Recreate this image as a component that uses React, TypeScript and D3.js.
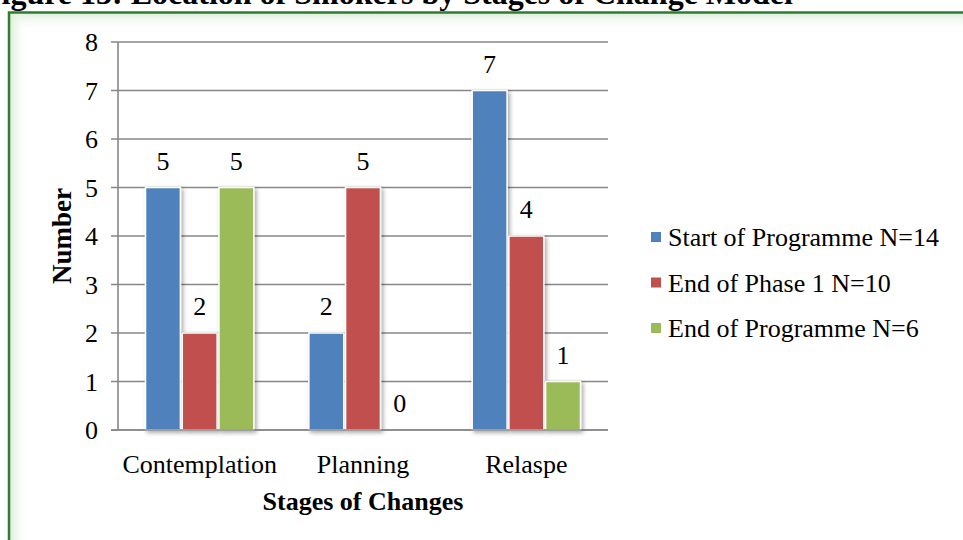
import React from "react";
import * as d3 from "d3";

const categories = ["Contemplation", "Planning", "Relaspe"];
const seriesNames = ["Start of Programme N=14", "End of Phase 1 N=10", "End of Programme N=6"];
const startValues = [5, 2, 7];
const phase1Values = [2, 5, 4];
const endValues = [5, 0, 1];
const yTicks = [0, 1, 2, 3, 4, 5, 6, 7, 8];
const colors = ["#4F81BD", "#C0504D", "#9BBB59"];
const title = "Figure 13: Location of Smokers by Stages of Change Model";

const W = 963;
const H = 540;

export default function App() {
  const series = [startValues, phase1Values, endValues];
  const x = d3.scaleBand<string>().domain(categories).range([118, 608]).paddingInner(0.337).paddingOuter(0.1685);
  const xi = d3.scaleBand<number>().domain([0, 1, 2]).range([0, x.bandwidth()]).paddingInner(0.05);
  const y = d3.scaleLinear().domain([0, 8]).range([430, 42]);
  const font = "'Liberation Serif', 'Times New Roman', serif";

  return (
    <svg width={W} height={H} style={{ position: "absolute", left: 0, top: 0, background: "#fff" }} fontFamily={font}>
      <defs>
        <filter id="sh" x="-30%" y="-10%" width="160%" height="130%">
          <feDropShadow dx="2" dy="2" stdDeviation="2.2" floodColor="#000" floodOpacity="0.35" />
        </filter>
        <linearGradient id="gTop" x1="0" y1="0" x2="0" y2="1">
          <stop offset="0" stopColor="#d9ecd6" stopOpacity="0.9" />
          <stop offset="1" stopColor="#ffffff" stopOpacity="0" />
        </linearGradient>
        <linearGradient id="gLeft" x1="0" y1="0" x2="1" y2="0">
          <stop offset="0" stopColor="#d9ecd6" stopOpacity="0.9" />
          <stop offset="1" stopColor="#ffffff" stopOpacity="0" />
        </linearGradient>
      </defs>
      <rect x={0} y={0} width={W} height={H} fill="#fff" />
      <text x={-18} y={4} fontSize={32} fontWeight="bold" fill="#000">{title}</text>
      {/* frame */}
      <rect x={10} y={13} width={W} height={18} fill="url(#gTop)" />
      <rect x={10} y={13} width={18} height={H} fill="url(#gLeft)" />
      <rect x={9} y={12.5} width={W + 20} height={H + 20} fill="none" stroke="#2E7D32" strokeWidth={2.5} />

      {/* gridlines + ticks */}
      {yTicks.map((t) => (
        <g key={t}>
          <line x1={111} x2={608} y1={y(t)} y2={y(t)} stroke="#878787" strokeWidth={1.6} />
          <text x={98} y={y(t) + 9} fontSize={26} textAnchor="end" fill="#000">{t}</text>
        </g>
      ))}
      <line x1={118} x2={118} y1={y(8)} y2={y(0)} stroke="#878787" strokeWidth={1.6} />

      {/* bars */}
      {categories.map((c, ci) => (
        <g key={c} transform={`translate(${x(c)},0)`}>
          {series.map((s, si) => {
            const v = s[ci];
            const bx = xi(si) as number;
            const bw = xi.bandwidth();
            return (
              <g key={si}>
                {v > 0 && (
                  <rect x={bx} y={y(v)} width={bw} height={y(0) - y(v)} fill={colors[si]} stroke="#fff" strokeWidth={1.5} filter="url(#sh)" />
                )}
                <text x={bx + bw / 2} y={y(v) - 18} fontSize={26} textAnchor="middle" fill="#000">{v}</text>
              </g>
            );
          })}
          <text x={x.bandwidth() / 2} y={473} fontSize={26} textAnchor="middle" fill="#000">{c}</text>
        </g>
      ))}
      <line x1={111} x2={608} y1={y(0)} y2={y(0)} stroke="#878787" strokeWidth={1.6} />

      {/* axis titles */}
      <text x={363} y={510} fontSize={26} fontWeight="bold" textAnchor="middle" fill="#000">Stages of Changes</text>
      <text transform={`translate(71,236) rotate(-90)`} fontSize={27} fontWeight="bold" textAnchor="middle" fill="#000">Number</text>

      {/* legend */}
      {seriesNames.map((n, i) => (
        <g key={n} transform={`translate(651,${237 + i * 45.5})`}>
          <rect x={0} y={-5} width={10} height={10} fill={colors[i]} />
          <text x={17} y={9} fontSize={26} fill="#000">{n}</text>
        </g>
      ))}
    </svg>
  );
}
